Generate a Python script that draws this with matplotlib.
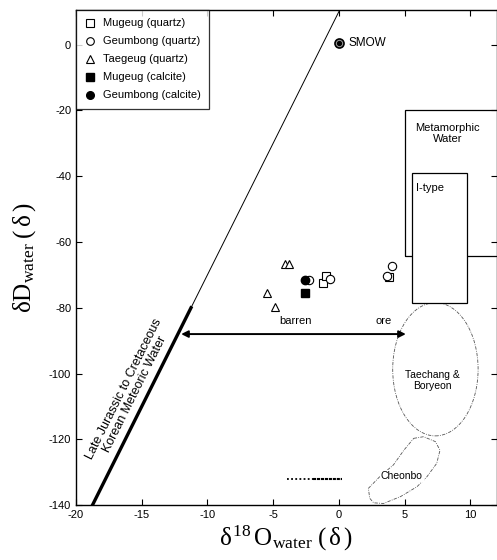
import numpy as np
import matplotlib
matplotlib.use("Agg")
import matplotlib.pyplot as plt
from matplotlib.patches import Rectangle, Ellipse, Polygon
from matplotlib.lines import Line2D

plt.rcParams["font.family"] = ["Liberation Sans", "DejaVu Sans"]
plt.rcParams["axes.unicode_minus"] = False
plt.rcParams["mathtext.fontset"] = "custom"
plt.rcParams["mathtext.rm"] = "Liberation Serif"
plt.rcParams["mathtext.it"] = "Liberation Serif"

# quartz / calcite data (d18O water, dD water)
mugeug_qtz_x = [-1.2, -0.95, 3.85]
mugeug_qtz_y = [-72.4, -70.4, -70.6]
geumbong_qtz_x = [-2.25, -0.7, 3.65, 4.05]
geumbong_qtz_y = [-71.6, -71.3, -70.4, -67.3]
taegeug_qtz_x = [-4.1, -3.8, -5.5, -4.85]
taegeug_qtz_y = [-66.7, -66.7, -75.6, -79.9]
mugeug_cal_x = [-2.55]
mugeug_cal_y = [-75.4]
geumbong_cal_x = [-2.55]
geumbong_cal_y = [-71.6]

# meteoric water line dD = 8 d18O + 10
mwl_x = [-18.75, 0.25]
mwl_thick_x = [-18.75, -11.25]

# Cheonbo field outline
cheonbo_x = [5.7, 6.45, 7.35, 7.7, 7.45, 6.7, 5.95, 4.7, 3.4, 2.65, 2.35, 2.25, 3.2, 4.15, 4.95]
cheonbo_y = [-119.7, -119.2, -120.7, -123.3, -127.3, -131.4, -134.4, -137.4, -139.5, -139.3, -137.9, -134.9, -131.0, -127.8, -123.3]

fig = plt.figure(figsize=(4.97, 5.6), dpi=100)
ax = fig.add_axes([0.153, 0.098, 0.846, 0.884])
ax.set_xlim(-20, 12)
ax.set_ylim(-140, 10.5)

# meteoric water line
mx = np.array(mwl_x)
ax.plot(mx, 8 * mx + 10, color="black", lw=0.7, zorder=2)
tx = np.array(mwl_thick_x)
ax.plot(tx, 8 * tx + 10, color="black", lw=2.4, zorder=2)
ax.text(-15.95, -105.5, "Late Jurassic to Cretaceous\nKorean Meteoric Water",
        rotation=63.5, rotation_mode="anchor", ha="center", va="center",
        multialignment="center", fontsize=9, linespacing=1.0)

# metamorphic water and I-type boxes
ax.add_patch(Rectangle((5, -64.2), 10, 44.2, fill=False, edgecolor="black", lw=0.9, zorder=2))
ax.text(8.3, -27, "Metamorphic\nWater", ha="center", va="center", fontsize=8,
        linespacing=1.05)
ax.add_patch(Rectangle((5.55, -78.5), 4.2, 39.5, facecolor="white", edgecolor="black",
                       lw=0.9, zorder=3))
ax.text(5.85, -42, "I-type", ha="left", va="top", fontsize=8, zorder=4)

# Taechang & Boryeon field
ax.add_patch(Ellipse((7.35, -98.7), 6.5, 40.5, fill=False, edgecolor="#555555",
                     lw=0.6, ls=(0, (4, 1.5, 1, 1.5)), zorder=2))
ax.text(7.1, -102, "Taechang &\nBoryeon", ha="center", va="center", fontsize=7.5,
        linespacing=1.15)

# Cheonbo field
ax.add_patch(Polygon(np.column_stack([cheonbo_x, cheonbo_y]), closed=True, fill=False,
                     edgecolor="#555555", lw=0.6, ls=(0, (4, 1.5, 1, 1.5)), zorder=2))
ax.text(4.8, -131.2, "Cheonbo", ha="center", va="center", fontsize=7.5, zorder=3,
        bbox=dict(facecolor="white", edgecolor="none", pad=0.5))

# dotted range near the bottom
ax.plot([-3.95, -2.0], [-132.2, -132.2], color="black", lw=1.3, ls=(0, (1, 1.3)))
ax.plot([-2.0, 0.25], [-132.2, -132.2], color="black", lw=1.5, ls=(0, (1.5, 0.4)))

# barren / ore arrow
ax.annotate("", xy=(-12, -88), xytext=(5.1, -88),
            arrowprops=dict(arrowstyle="<|-|>", color="black", lw=1.4,
                            mutation_scale=10, shrinkA=0, shrinkB=0))
ax.text(-3.3, -85.5, "barren", ha="center", va="bottom", fontsize=8)
ax.text(3.4, -85.5, "ore", ha="center", va="bottom", fontsize=8)

# SMOW
ax.plot([0], [0.5], marker="o", ms=6.5, mfc="#999999", mec="black", mew=1.2, zorder=5)
ax.plot([0], [0.5], marker="o", ms=2.8, mfc="black", mec="black", zorder=6)
ax.text(0.75, 0.5, "SMOW", ha="left", va="center", fontsize=8.5)

# data points
ms = 6
ax.plot(mugeug_qtz_x, mugeug_qtz_y, ls="none", marker="s", ms=ms, mfc="white",
        mec="black", mew=0.8, zorder=6)
ax.plot(geumbong_qtz_x, geumbong_qtz_y, ls="none", marker="o", ms=ms, mfc="white",
        mec="black", mew=0.8, zorder=6)
ax.plot(taegeug_qtz_x, taegeug_qtz_y, ls="none", marker="^", ms=ms, mfc="white",
        mec="black", mew=0.8, zorder=6)
ax.plot(mugeug_cal_x, mugeug_cal_y, ls="none", marker="s", ms=ms, mfc="black",
        mec="black", zorder=6)
ax.plot(geumbong_cal_x, geumbong_cal_y, ls="none", marker="o", ms=ms, mfc="black",
        mec="black", zorder=7)

handles = [
    Line2D([], [], ls="none", marker="s", ms=5.5, mfc="white", mec="black", mew=0.8),
    Line2D([], [], ls="none", marker="o", ms=5.5, mfc="white", mec="black", mew=0.8),
    Line2D([], [], ls="none", marker="^", ms=5.5, mfc="white", mec="black", mew=0.8),
    Line2D([], [], ls="none", marker="s", ms=5.5, mfc="black", mec="black"),
    Line2D([], [], ls="none", marker="o", ms=5.5, mfc="black", mec="black"),
]
labels = ["Mugeug (quartz)", "Geumbong (quartz)", "Taegeug (quartz)",
          "Mugeug (calcite)", "Geumbong (calcite)"]
leg = ax.legend(handles, labels, loc="upper left", borderaxespad=0, fontsize=8,
                frameon=True, fancybox=False, handletextpad=0.7, handlelength=1.0,
                labelspacing=0.72, borderpad=0.75)
leg.get_frame().set_edgecolor("black")
leg.get_frame().set_linewidth(0.9)

# axes styling
ax.set_xticks([-20, -15, -10, -5, 0, 5, 10])
ax.set_yticks([-140, -120, -100, -80, -60, -40, -20, 0])
ax.tick_params(direction="in", length=4, width=0.8, labelsize=8, top=True, right=True)
for s in ax.spines.values():
    s.set_linewidth(1.0)

ax.set_xlabel(r"$\delta^{18}\,\mathrm{O}_{\mathrm{water}}\;(\,\delta\,)$", fontsize=18,
              labelpad=3)
ax.set_ylabel(r"$\delta\mathrm{D}_{\mathrm{water}}\;(\,\delta\,)$", fontsize=18,
              labelpad=8)

fig.savefig("out.png", dpi=100)
